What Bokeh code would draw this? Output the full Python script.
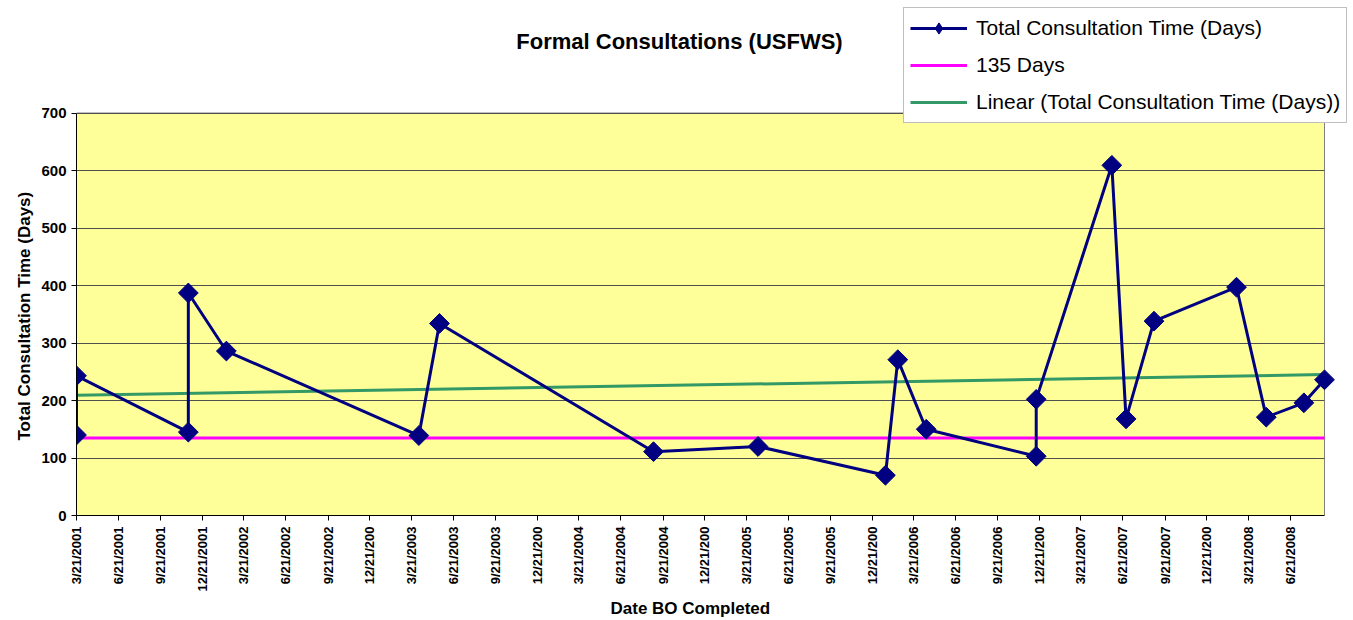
import numpy as np
import pandas as pd
from bokeh.plotting import figure
from bokeh.models import (FixedTicker, Legend, LegendItem, Label, Range1d,
                          BoxAnnotation, Grid, Title)
from bokeh.embed import file_html
from bokeh.resources import INLINE

title_text = "Formal Consultations (USFWS)"
x_label = "Date BO Completed"
y_label = "Total Consultation Time (Days)"
series_names = ["Total Consultation Time (Days)", "135 Days",
                "Linear (Total Consultation Time (Days))"]

bo_dates = ["2001-03-21", "2001-03-21", "2001-11-20", "2001-11-20", "2002-02-11",
            "2003-04-07", "2003-05-22", "2004-08-31", "2005-04-16", "2006-01-19",
            "2006-02-15", "2006-04-18", "2006-12-14", "2006-12-14", "2007-05-28",
            "2007-06-28", "2007-08-28", "2008-02-24", "2008-04-29", "2008-07-20",
            "2008-09-03"]
consult_days = [140, 243, 145, 387, 286, 139, 334, 111, 120, 70, 271, 150, 103, 202,
                609, 168, 338, 397, 171, 196, 236]
target_days = 135

tick_dates = ["2001-03-21", "2001-06-21", "2001-09-21", "2001-12-21",
              "2002-03-21", "2002-06-21", "2002-09-21", "2002-12-21",
              "2003-03-21", "2003-06-21", "2003-09-21", "2003-12-21",
              "2004-03-21", "2004-06-21", "2004-09-21", "2004-12-21",
              "2005-03-21", "2005-06-21", "2005-09-21", "2005-12-21",
              "2006-03-21", "2006-06-21", "2006-09-21", "2006-12-21",
              "2007-03-21", "2007-06-21", "2007-09-21", "2007-12-21",
              "2008-03-21", "2008-06-21"]
tick_labels = ["3/21/2001", "6/21/2001", "9/21/2001", "12/21/2001",
               "3/21/2002", "6/21/2002", "9/21/2002", "12/21/200",
               "3/21/2003", "6/21/2003", "9/21/2003", "12/21/200",
               "3/21/2004", "6/21/2004", "9/21/2004", "12/21/200",
               "3/21/2005", "6/21/2005", "9/21/2005", "12/21/200",
               "3/21/2006", "6/21/2006", "9/21/2006", "12/21/200",
               "3/21/2007", "6/21/2007", "9/21/2007", "12/21/200",
               "3/21/2008", "6/21/2008"]
y_ticks = [0, 100, 200, 300, 400, 500, 600, 700]


def to_ms(ds):
    return pd.to_datetime(ds).values.astype("datetime64[ms]").astype("int64").astype(float)


x_ms = to_ms(bo_dates)
t_ms = to_ms(tick_dates)
y_vals = np.array(consult_days, dtype=float)
x_min, x_max = x_ms.min(), x_ms.max()
y_min, y_max = min(y_ticks), max(y_ticks)

# linear trendline (least squares on dates)
days = (x_ms - x_min) / 86400000.0
slope, intercept = np.polyfit(days, y_vals, 1)
trend_x = [x_min, x_max]
trend_y = [intercept, intercept + slope * (x_max - x_min) / 86400000.0]

FONT = "Liberation Sans"

# ---- layout (pixels) ----
W, H = 1353, 620
AREA_L, AREA_R, AREA_T, AREA_B = 76, 1324, 112.5, 515   # plot-area box on page

cross_ok = "cross_bounds" in Grid.properties()
has_standoff = "standoff" in Title.properties()
frame_r = W if cross_ok else AREA_R
frame_t = 0

x_end = x_min + (x_max - x_min) * (frame_r - AREA_L) / (AREA_R - AREA_L)
y_end = y_min + (y_max - y_min) * (AREA_B - frame_t) / (AREA_B - AREA_T)

p = figure(width=W, height=H, x_axis_type="datetime",
           output_backend="svg", toolbar_location=None,
           x_range=Range1d(x_min, x_end), y_range=Range1d(y_min, y_end),
           min_border_left=AREA_L, min_border_right=W - frame_r,
           min_border_top=frame_t, min_border_bottom=H - AREA_B)

p.background_fill_color = "white"
p.border_fill_color = "white"
p.outline_line_color = None

plot_area = BoxAnnotation(left=x_min, right=x_max, bottom=y_min, top=y_max,
                          fill_color="#FFFF99", fill_alpha=1,
                          line_color="#808080", line_alpha=1, line_width=1,
                          level="image")
p.add_layout(plot_area)

p.xgrid.visible = False
p.ygrid.ticker = FixedTicker(ticks=y_ticks)
p.ygrid.grid_line_color = "#505050"
p.ygrid.grid_line_width = 1
if cross_ok:
    p.ygrid.cross_bounds = (x_min, x_max)

# axes
p.xaxis.bounds = (x_min, x_max)
p.xaxis.ticker = FixedTicker(ticks=list(t_ms))
p.xaxis.major_label_overrides = {float(t): lab for t, lab in zip(t_ms, tick_labels)}
p.xaxis.major_label_orientation = np.pi / 2
p.xaxis.major_label_text_font = FONT
p.xaxis.major_label_text_font_style = "bold"
p.xaxis.major_label_text_font_size = "13px"
p.xaxis.major_label_standoff = 6

p.yaxis.bounds = (y_min, y_max)
p.yaxis.ticker = FixedTicker(ticks=y_ticks)
p.yaxis.major_label_text_font = FONT
p.yaxis.major_label_text_font_style = "bold"
p.yaxis.major_label_text_font_size = "15px"
p.yaxis.major_label_standoff = 5

for ax in (p.xaxis, p.yaxis):
    ax.axis_line_color = "black"
    ax.axis_line_width = 1
    ax.major_tick_line_color = "black"
    ax.major_tick_out = 5
    ax.major_tick_in = 0
    ax.minor_tick_line_color = None
    ax.major_label_text_color = "black"

# axis titles placed along the plot area
LABEL_PX = 17
y_title = Title(text=y_label, align="left", offset=75,
                text_font=FONT, text_font_style="bold",
                text_font_size=f"{LABEL_PX}px", text_color="black")
x_title = Title(text=x_label, align="left", offset=534,
                text_font=FONT, text_font_style="bold",
                text_font_size=f"{LABEL_PX}px", text_color="black")
if has_standoff:
    y_title.standoff = 10
    x_title.standoff = 5
p.add_layout(y_title, "left")
p.add_layout(x_title, "below")

# series
r_trend = p.line(trend_x, trend_y, line_color="#339966", line_width=3)
r_target = p.line([x_min, x_max], [target_days, target_days],
                  line_color="#FF00FF", line_width=3)
r_line = p.line(x_ms, y_vals, line_color="#000080", line_width=3)
# diamond key for the legend (tiny, hidden beneath the plotted markers)
r_key = p.scatter(x_ms, y_vals, marker="diamond", size=1,
                  fill_color="#000080", line_color="#000080")
r_pts = p.scatter(x_ms, y_vals, marker="square", angle=np.pi / 4, size=14,
                  fill_color="#000080", line_color="#000080")

legend = Legend(items=[
    LegendItem(label=series_names[0], renderers=[r_line, r_key]),
    LegendItem(label=series_names[1], renderers=[r_target]),
    LegendItem(label=series_names[2], renderers=[r_trend]),
], location=(903 - AREA_L, AREA_B - 123))
legend.label_text_font = FONT
legend.label_text_font_size = "21px"
legend.label_text_color = "black"
legend.glyph_width = 57
legend.glyph_height = 28
legend.label_height = 28
legend.spacing = 9
legend.padding = 6
legend.margin = 0
legend.label_standoff = 9
legend.border_line_color = "#808080"
legend.border_line_width = 1
legend.background_fill_color = "white"
legend.background_fill_alpha = 1
p.add_layout(legend)

title = Label(x=679 - AREA_L, y=AREA_B - 41, x_units="screen", y_units="screen",
              text=title_text, text_align="center", text_baseline="middle",
              text_font=FONT, text_font_style="bold", text_font_size="22px",
              text_color="black")
p.add_layout(title)

open("out.html", "w").write(file_html(p, INLINE))
